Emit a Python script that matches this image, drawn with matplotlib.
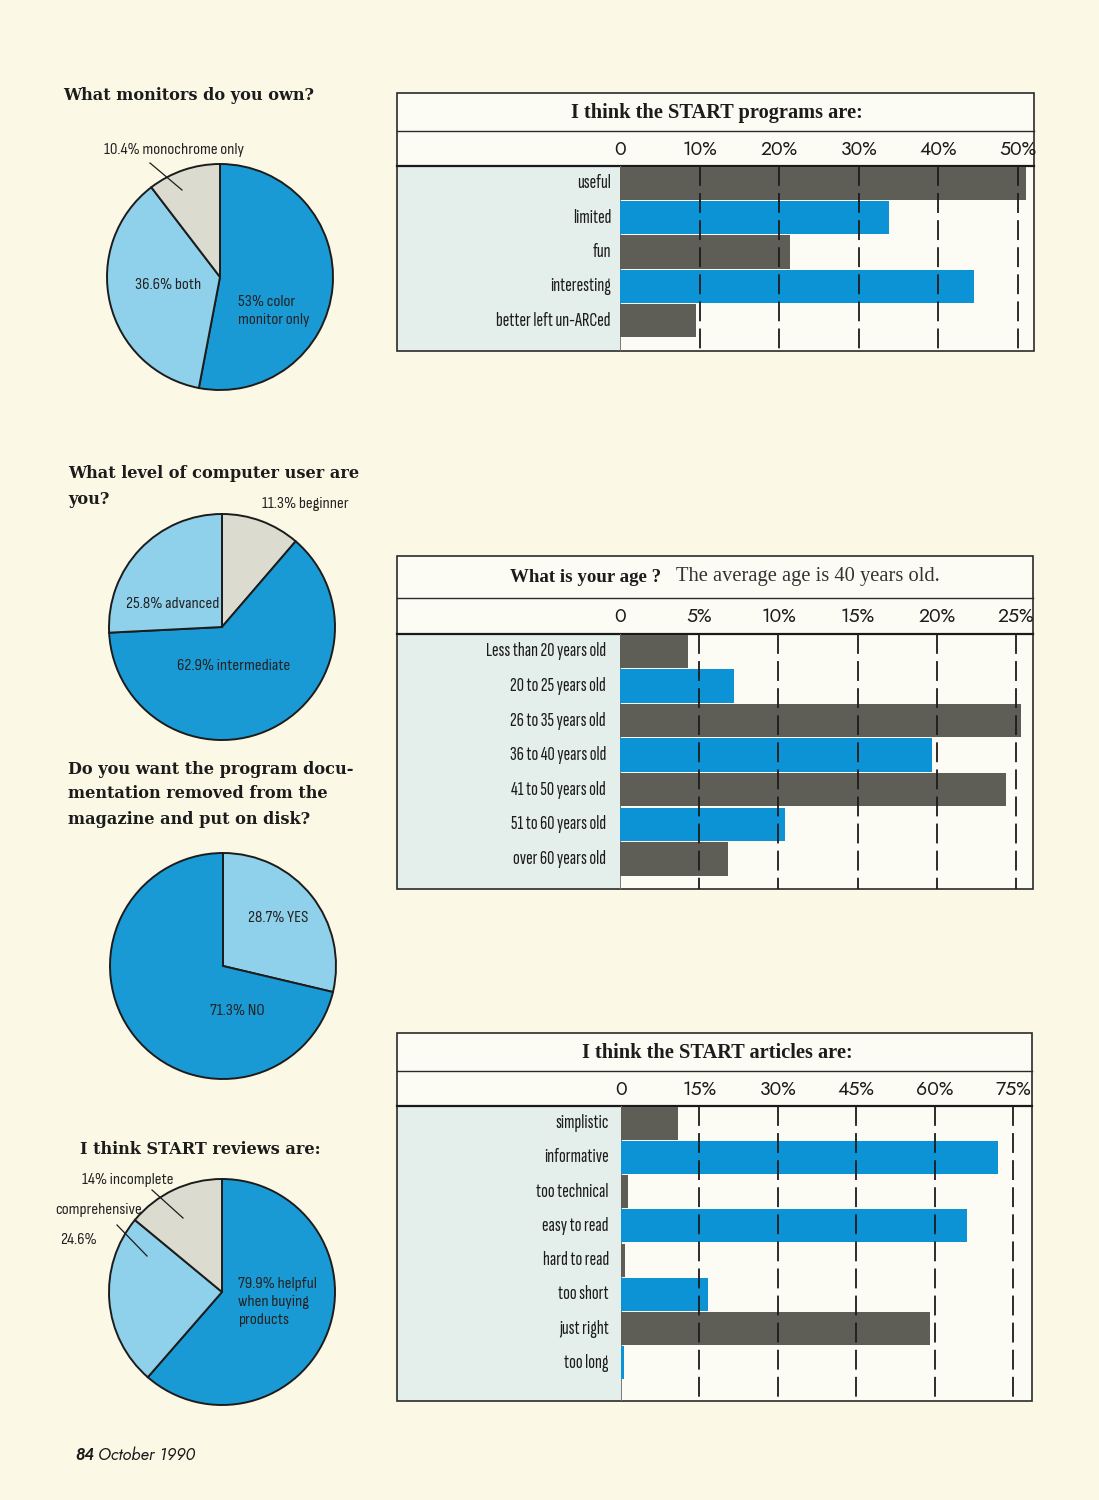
"""Reader survey page (START, October 1990): four pies and three bar boxes."""

import matplotlib.pyplot as plt
from matplotlib import transforms
from matplotlib.patches import Rectangle

W, H = 1099, 1500

PAGE = "#fbf8e6"
BOX = "#fdfcf4"
LABEL_BG = "#e4eeea"
GREY_BAR = "#5e5d56"
BLUE_BAR = "#0b93d6"
PIE_BLUE = "#1a9ad4"
PIE_LIGHT = "#8fd0ea"
PIE_GREY = "#dcdbd0"
INK = "#1c1c1c"

GEO = ["Jost", "Lato", "DejaVu Sans"]
COND = ["Sofia Sans Condensed", "DejaVu Sans"]
XCOND = ["Sofia Sans Extra Condensed", "DejaVu Sans"]

# ---- data -------------------------------------------------------------
prog_labels = ["useful", "limited", "fun", "interesting", "better left un-ARCed"]
prog_values = [51.0, 33.8, 21.4, 44.5, 9.5]
prog_ticks = [0, 10, 20, 30, 40, 50]

age_labels = ["Less than 20 years old", "20 to 25 years old", "26 to 35 years old",
              "36 to 40 years old", "41 to 50 years old", "51 to 60 years old",
              "over 60 years old"]
age_values = [4.3, 7.2, 25.3, 19.7, 24.4, 10.4, 6.8]
age_ticks = [0, 5, 10, 15, 20, 25]

art_labels = ["simplistic", "informative", "too technical", "easy to read",
              "hard to read", "too short", "just right", "too long"]
art_values = [10.9, 72.1, 1.3, 66.2, 0.8, 16.6, 59.1, 0.6]
art_ticks = [0, 15, 30, 45, 60, 75]

monitor_values = [53.0, 36.6, 10.4]      # color only, both, monochrome only
level_values = [11.3, 62.9, 25.8]        # beginner, intermediate, advanced
docs_values = [28.7, 71.3]               # yes, no
review_values = [61.4, 24.6, 14.0]       # helpful (drawn slice), comprehensive, incomplete

fig = plt.figure(figsize=(W / 100, H / 100), dpi=100)
fig.patch.set_facecolor(PAGE)

page = fig.add_axes([0, 0, 1, 1])
page.set_xlim(0, W)
page.set_ylim(H, 0)
page.set_axis_off()


def px_axes(x0, y0, x1, y1):
    return fig.add_axes([x0 / W, 1 - y1 / H, (x1 - x0) / W, (y1 - y0) / H])


def bar_box(left, right, top, title_bot, head_bot, bottom, zero_x, px_per, pitch,
            labels, values, ticks, label_x):
    page.add_patch(Rectangle((left, top), right - left, bottom - top, fc=BOX, ec="none"))
    page.add_patch(Rectangle((left, head_bot), zero_x - left, bottom - head_bot,
                             fc=LABEL_BG, ec="none"))
    page.add_patch(Rectangle((left, top), right - left, bottom - top, fill=False,
                             ec="#2a2a2a", lw=1.2, zorder=5))
    page.plot([left, right], [title_bot, title_bot], color="#2a2a2a", lw=1.0, zorder=5)
    page.plot([left, right], [head_bot, head_bot], color="#1a1a1a", lw=1.6, zorder=5)

    ax = px_axes(zero_x, head_bot, right, bottom)
    ax.set_axis_off()
    ax.set_xlim(0, (right - zero_x) / px_per)
    ybot = (bottom - head_bot) / pitch
    ax.set_ylim(ybot, 0)
    ys = [i + 0.5 for i in range(len(values))]
    colors = [GREY_BAR if i % 2 == 0 else BLUE_BAR for i in range(len(values))]
    ax.barh(ys, values, height=0.97, color=colors, zorder=2)
    ax.vlines(ticks[1:], 0, ybot, colors=INK, lw=1.3, linestyles=(0, (11, 4)), zorder=3)
    ax.axvline(0, color="#777777", lw=0.7, zorder=1)

    head_mid = (title_bot + head_bot) / 2 + 1
    tx = transforms.blended_transform_factory(ax.transData, page.transData)
    for t in ticks:
        ax.text(t, head_mid, "0" if t == 0 else f"{t}%", transform=tx, ha="center",
                va="center", fontsize=14, family=GEO, color=INK, clip_on=False)
    ty = transforms.blended_transform_factory(page.transData, ax.transData)
    for y, lab in zip(ys, labels):
        ax.text(label_x, y, lab, transform=ty, ha="right", va="center",
                fontsize=14.5, family=XCOND, color=INK, clip_on=False)
    return ax


def pie(cx, cy, r, values, colors):
    pad = 1.04
    ax = px_axes(cx - r * pad, cy - r * pad, cx + r * pad, cy + r * pad)
    ax.pie(values, colors=colors, startangle=90, counterclock=False, radius=1,
           wedgeprops=dict(edgecolor=INK, linewidth=1.4))
    ax.set_xlim(-pad, pad)
    ax.set_ylim(-pad, pad)
    return ax


# ---- bar boxes --------------------------------------------------------
bar_box(397, 1034, 93, 131, 166, 351, 620, 7.96, 34.4,
        prog_labels, prog_values, prog_ticks, 611)
bar_box(397, 1033, 556, 598, 634, 889, 620, 15.84, 34.6,
        age_labels, age_values, age_ticks, 606)
bar_box(397, 1032, 1033, 1071, 1106, 1401, 621, 5.23, 34.25,
        art_labels, art_values, art_ticks, 609)

# ---- pies -------------------------------------------------------------
pie(220, 277, 113, monitor_values, [PIE_BLUE, PIE_LIGHT, PIE_GREY])
pie(222, 627, 113, level_values, [PIE_GREY, PIE_BLUE, PIE_LIGHT])
pie(223, 966, 113, docs_values, [PIE_LIGHT, PIE_BLUE])
pie(222, 1292, 113, review_values, [PIE_BLUE, PIE_LIGHT, PIE_GREY])

# ---- overlay text -----------------------------------------------------
top = fig.add_axes([0, 0, 1, 1])
top.set_xlim(0, W)
top.set_ylim(H, 0)
top.set_axis_off()
top.patch.set_alpha(0)

box_title = dict(fontsize=14.7, family="Liberation Serif", weight="bold", color=INK,
                 va="center")
top.text(717, 113, "I think the START programs are:", ha="center", **box_title)
top.text(661, 577, "What is your age ?", ha="right", fontsize=13.6,
         family="Liberation Serif", weight="bold", color=INK, va="center")
top.text(676, 577, "The average age is 40 years old.", ha="left", fontsize=14.8,
         family="Liberation Serif", color="#333333", va="center")
top.text(717, 1053, "I think the START articles are:", ha="center", **box_title)

pie_title = dict(fontsize=11.65, family="DejaVu Serif", weight="bold", color=INK,
                 ha="left", va="center")
top.text(63, 95, "What monitors do you own?", **pie_title)
top.text(68, 474, "What level of computer user are", **pie_title)
top.text(68, 500, "you?", **pie_title)
top.text(68, 769, "Do you want the program docu-", **pie_title)
top.text(68, 794, "mentation removed from the", **pie_title)
top.text(68, 819, "magazine and put on disk?", **pie_title)
top.text(80, 1150, "I think START reviews are:", **pie_title)

lab = dict(fontsize=12.1, family=COND, color="#222222", va="center", linespacing=1.35)
top.text(104, 150, "10.4% monochrome only", ha="left", **lab)
top.plot([150, 182], [163, 190], color=INK, lw=0.9)
top.text(168, 285, "36.6% both", ha="center", **lab)
top.text(238, 311, "53% color\nmonitor only", ha="left", **lab)

top.text(262, 504, "11.3% beginner", ha="left", **lab)
top.text(219, 604, "25.8% advanced", ha="right", **lab)
top.text(234, 666, "62.9% intermediate", ha="center", **lab)

top.text(278, 918, "28.7% YES", ha="center", **lab)
top.text(237, 1011, "71.3% NO", ha="center", **lab)

top.text(82, 1180, "14% incomplete", ha="left", **lab)
top.plot([152, 183], [1190, 1218], color=INK, lw=0.9)
top.text(55, 1210, "comprehensive", ha="left", **lab)
top.text(60, 1240, "24.6%", ha="left", **lab)
top.plot([117, 147], [1225, 1256], color=INK, lw=0.9)
top.text(238, 1302, "79.9% helpful\nwhen buying\nproducts", ha="left", **lab)

top.text(75, 1455, "84", fontsize=12, family=["Lato", "DejaVu Sans"], weight="black",
         style="italic", color=INK, ha="left", va="center")
top.text(98, 1455, "October 1990", fontsize=12, family=GEO, style="italic",
         color=INK, ha="left", va="center")

fig.savefig("out.png", dpi=100, facecolor=PAGE)
